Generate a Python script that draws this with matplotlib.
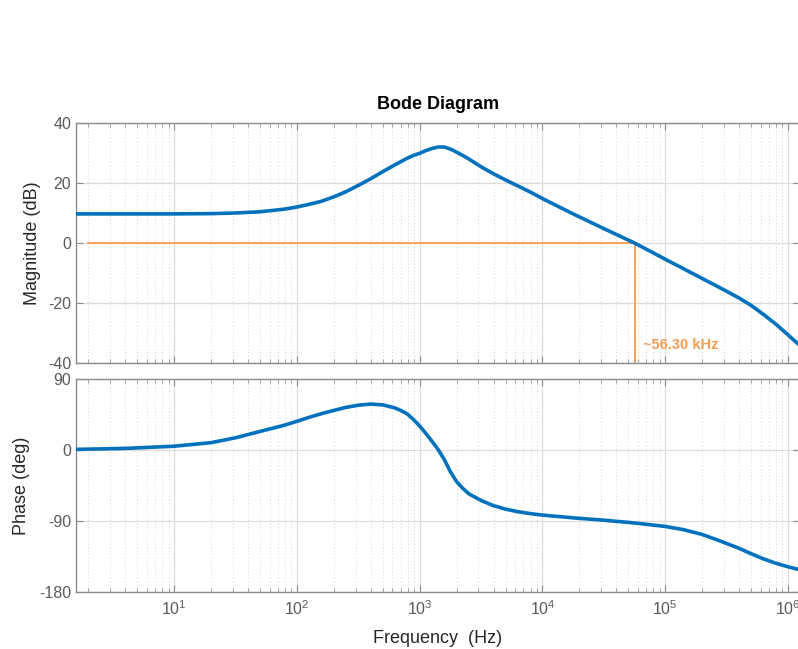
import matplotlib
matplotlib.use("Agg")
import matplotlib.pyplot as plt
from matplotlib.ticker import LogLocator, NullFormatter, FixedLocator

plt.rcParams['font.family'] = ['Liberation Sans', 'DejaVu Sans']
plt.rcParams['axes.unicode_minus'] = False
plt.rcParams['mathtext.default'] = 'regular'

# Frequency samples (Hz)
freq_hz = [1.585, 3.98, 10, 20, 31.6, 50, 79.4, 100, 126, 158, 200, 251, 316, 398,
           501, 631, 708, 794, 891, 1000, 1122, 1259, 1413, 1585, 1778, 1995, 2239,
           2512, 3162, 3981, 5012, 6310, 7943, 10000, 17783, 31623, 56234, 100000,
           141254, 199526, 281838, 398107, 501187, 630957, 794328, 1000000, 1258925]

magnitude_db = [9.7, 9.7, 9.7, 9.8, 10.0, 10.4, 11.3, 12.0, 12.9, 13.9, 15.4, 17.1,
                19.2, 21.4, 23.8, 26.1, 27.2, 28.3, 29.2, 29.9, 30.8, 31.5, 32.0,
                32.0, 31.3, 30.3, 29.2, 28.0, 25.4, 23.1, 21.0, 19.0, 17.0, 14.8,
                9.7, 4.8, 0.0, -5.4, -8.6, -11.8, -15.0, -18.3, -20.8, -23.8, -27.0,
                -30.6, -34.3]

phase_deg = [0.8, 2.0, 4.8, 9.3, 15.5, 23.5, 31.5, 36.4, 41.5, 46.0, 50.2, 54.0,
             56.8, 58.2, 57.2, 53.2, 49.8, 45.5, 38.5, 30.3, 21.0, 11.0, 0.5,
             -12.0, -27.5, -40.0, -48.5, -55.5, -64.0, -70.5, -75.0, -78.2, -80.6,
             -82.5, -86.0, -89.0, -92.5, -96.9, -101.0, -107.0, -115.5, -124.5,
             -131.5, -138.0, -143.5, -148.0, -152.0]

crossover_hz = 56300
marker_start_hz = 2.0
crossover_label = "~56.30 kHz"
mag_ticks = [-40, -20, 0, 20, 40]
phase_ticks = [-180, -90, 0, 90]

blue = '#0072BD'
orange = '#F89C50'
spine_c = '#8c8c8c'
label_c = '#5a5a5a'
text_c = '#262626'

fig = plt.figure(figsize=(7.98, 6.49), dpi=100)
ax1 = fig.add_axes([76/798, 1 - 363/649, 724/798, 240/649])
ax2 = fig.add_axes([76/798, 1 - 592/649, 724/798, 213/649])

xlim = (10**0.2, 10**6.098)

for ax in (ax1, ax2):
    ax.set_xscale('log')
    ax.set_xlim(*xlim)
    ax.xaxis.set_major_locator(LogLocator(base=10, numticks=20))
    ax.xaxis.set_minor_locator(LogLocator(base=10, subs=range(2, 10), numticks=100))
    ax.xaxis.set_minor_formatter(NullFormatter())
    ax.grid(True, which='major', color='#dcdcdc', linewidth=0.9, linestyle='-')
    ax.grid(True, which='minor', axis='x', color='#d6d6d6', linewidth=0.7, linestyle=(0, (1, 2.5)))
    ax.tick_params(which='both', direction='in', top=True, right=True, colors=spine_c,
                   labelcolor=label_c, labelsize=11.5)
    ax.tick_params(which='major', length=5)
    ax.tick_params(which='minor', length=3)
    ax.tick_params(axis='x', pad=5)
    for s in ax.spines.values():
        s.set_color(spine_c)
        s.set_linewidth(1.0)
    ax.set_axisbelow(True)

ax1.plot(freq_hz, magnitude_db, color=blue, linewidth=2.6, solid_capstyle='round', zorder=3)
ax1.plot([marker_start_hz, crossover_hz], [0, 0], color=orange, linewidth=1.3, zorder=2)
ax1.plot([crossover_hz, crossover_hz], [0, -40], color=orange, linewidth=1.3, zorder=2)
ax1.text(crossover_hz * 1.16, -34, crossover_label, color=orange, fontsize=10.5,
         fontweight='bold', va='center', ha='left')
ax1.set_ylim(-40, 40)
ax1.yaxis.set_major_locator(FixedLocator(mag_ticks))
ax1.tick_params(axis='x', labelbottom=False)
ax1.set_ylabel('Magnitude (dB)', fontsize=13, color=text_c)
ax1.yaxis.set_label_coords(-0.048, 0.5)
ax1.set_title('Bode Diagram', fontsize=13, fontweight='bold', pad=10)

ax2.plot(freq_hz, phase_deg, color=blue, linewidth=2.6, solid_capstyle='round', zorder=3)
ax2.set_ylim(-180, 90)
ax2.yaxis.set_major_locator(FixedLocator(phase_ticks))
ax2.set_ylabel('Phase (deg)', fontsize=13, color=text_c)
ax2.yaxis.set_label_coords(-0.063, 0.5)
ax2.set_xlabel('Frequency  (Hz)', fontsize=13, color=text_c, labelpad=9)

fig.savefig('out.png', dpi=100)
